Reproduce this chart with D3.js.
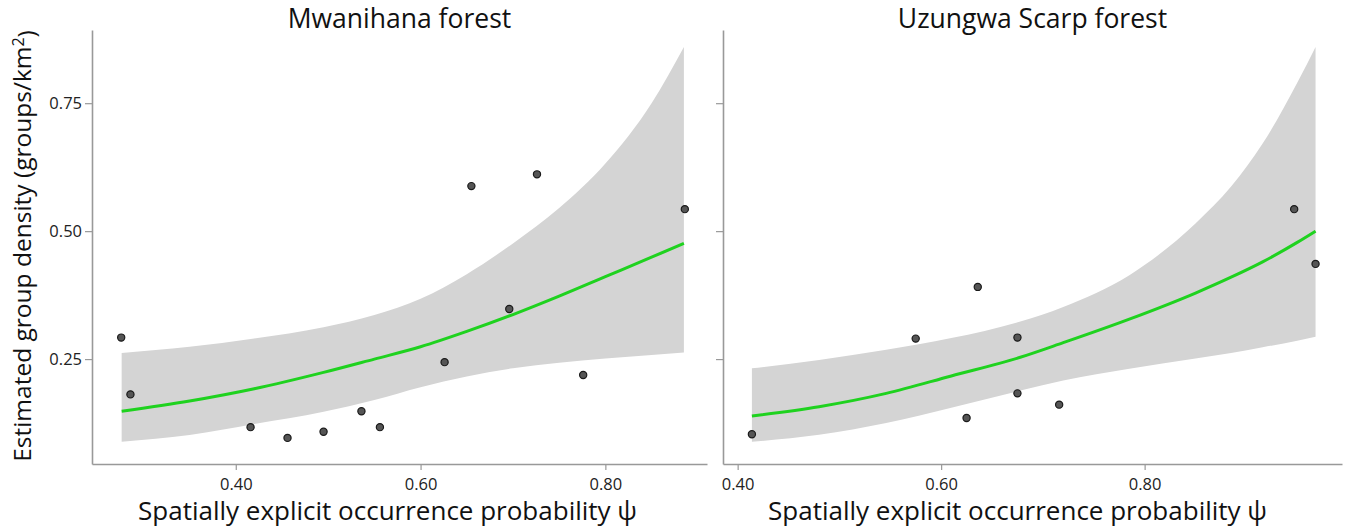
<!DOCTYPE html>
<html><head><meta charset="utf-8">
<script src="https://cdn.jsdelivr.net/npm/d3@7"></script>
<style>
html,body{margin:0;padding:0;background:#fff;}
svg text{font-family:"Open Sans","Noto Sans",sans-serif;}
</style></head>
<body>
<svg id="chart" width="1346" height="529"></svg>
<script>
// ---- Data ----
const panelTitles = ["Mwanihana forest", "Uzungwa Scarp forest"];
const yTicks = [0.25, 0.50, 0.75];
const leftXTicks = [0.40, 0.60, 0.80];
const rightXTicks = [0.40, 0.60, 0.80];

// observed points
const leftPtX = [0.276,0.286,0.416,0.456,0.495,0.536,0.556,0.626,0.655,0.696,0.726,0.776,0.886];
const leftPtY = [0.292,0.181,0.117,0.096,0.108,0.148,0.117,0.244,0.588,0.348,0.611,0.219,0.543];
const rightPtX = [0.414,0.575,0.625,0.636,0.675,0.675,0.716,0.947,0.968];
const rightPtY = [0.103,0.290,0.135,0.391,0.292,0.183,0.161,0.543,0.436];

// fitted curve and confidence band
const leftFitX   = [0.2765,0.35,0.42,0.495,0.55,0.60,0.65,0.70,0.75,0.80,0.85,0.885];
const leftFit    = [0.148,0.168,0.192,0.224,0.250,0.274,0.304,0.337,0.373,0.411,0.449,0.476];
const leftUpper  = [0.262,0.274,0.290,0.312,0.336,0.368,0.416,0.476,0.545,0.632,0.750,0.860];
const leftLower  = [0.0885,0.1015,0.123,0.147,0.170,0.195,0.216,0.232,0.243,0.251,0.258,0.263];

const rightFitX  = [0.414,0.48,0.546,0.61,0.677,0.72,0.785,0.85,0.885,0.916,0.95,0.968];
const rightFit   = [0.139,0.157,0.183,0.217,0.253,0.282,0.328,0.379,0.410,0.440,0.478,0.500];
const rightUpper = [0.232,0.248,0.268,0.291,0.323,0.352,0.414,0.515,0.587,0.671,0.790,0.860];
const rightLower = [0.0885,0.102,0.125,0.155,0.188,0.208,0.231,0.251,0.262,0.273,0.286,0.2936];

const xLabel = "Spatially explicit occurrence probability ψ";

// ---- Layout ----
const svg = d3.select("#chart");
const plotTop = 30, plotBottom = 464;
const y = d3.scaleLinear().domain([0.045, 0.893]).range([plotBottom, plotTop]);

const panels = [
  {title: panelTitles[0], x0: 92, x1: 707, dom: [0.2444, 0.910], ticks: leftXTicks, labels: true, lx: -12,
   px: leftPtX, py: leftPtY, fx: leftFitX, fit: leftFit, up: leftUpper, lo: leftLower},
  {title: panelTitles[1], x0: 723, x1: 1342, dom: [0.3856, 0.994], ticks: rightXTicks, labels: false, lx: -15,
   px: rightPtX, py: rightPtY, fx: rightFitX, fit: rightFit, up: rightUpper, lo: rightLower}
];

const axisColor = "#999";
const textColor = "#222";

panels.forEach(p => {
  const x = d3.scaleLinear().domain(p.dom).range([p.x0, p.x1]);
  const g = svg.append("g");

  // band
  const band = p.fx.map((v, i) => ({x: v, lo: p.lo[i], up: p.up[i]}));
  g.append("path").datum(band)
    .attr("fill", "#d4d4d4")
    .attr("d", d3.area().x(d => x(d.x)).y0(d => y(d.lo)).y1(d => y(d.up)).curve(d3.curveMonotoneX));

  // fit line
  const fit = p.fx.map((v, i) => ({x: v, y: p.fit[i]}));
  g.append("path").datum(fit)
    .attr("fill", "none").attr("stroke", "#1fd21f").attr("stroke-width", 3)
    .attr("d", d3.line().x(d => x(d.x)).y(d => y(d.y)).curve(d3.curveMonotoneX));

  // points
  const pts = p.px.map((v, i) => ({x: v, y: p.py[i]}));
  g.selectAll("circle").data(pts).enter().append("circle")
    .attr("cx", d => x(d.x)).attr("cy", d => y(d.y)).attr("r", 3.6)
    .attr("fill", "#555").attr("stroke", "#1a1a1a").attr("stroke-width", 1.2);

  // x axis
  const xa = g.append("g").attr("transform", `translate(0,${plotBottom})`)
    .call(d3.axisBottom(x).tickValues(p.ticks).tickSize(6).tickSizeOuter(0).tickFormat(d3.format(".2f")));
  xa.select(".domain").attr("stroke", axisColor).attr("stroke-width", 1.6);
  xa.selectAll(".tick line").attr("stroke", axisColor).attr("stroke-width", 1.2);
  xa.selectAll(".tick text").attr("fill", textColor).style("font-size", "16.5px").attr("dy", "1.0em");

  // y axis
  const ya = g.append("g").attr("transform", `translate(${p.x0},0)`)
    .call(d3.axisLeft(y).tickValues(yTicks).tickSize(7).tickSizeOuter(0)
      .tickFormat(p.labels ? d3.format(".2f") : () => ""));
  ya.select(".domain").attr("stroke", axisColor).attr("stroke-width", 1.6);
  ya.selectAll(".tick line").attr("stroke", axisColor).attr("stroke-width", 1.2);
  ya.selectAll(".tick text").attr("fill", textColor).style("font-size", "16.5px").attr("x", -10);

  // title
  svg.append("text").attr("x", (p.x0 + p.x1) / 2).attr("y", 28)
    .attr("text-anchor", "middle").attr("fill", "#111").style("font-size", "26.5px").text(p.title);

  // x label
  svg.append("text").attr("x", (p.x0 + p.x1) / 2 + p.lx).attr("y", 520)
    .attr("text-anchor", "middle").attr("fill", "#111").style("font-size", "26px").text(xLabel);
});

// y label
const yl = svg.append("text").attr("transform", "translate(31,246) rotate(-90)")
  .attr("text-anchor", "middle").attr("fill", "#111").style("font-size", "24.5px");
yl.append("tspan").text("Estimated group density (groups/km");
yl.append("tspan").attr("dy", "-0.45em").style("font-size", "16px").text("2");
yl.append("tspan").attr("dy", "0.45em").text(")");
</script>
</body></html>
